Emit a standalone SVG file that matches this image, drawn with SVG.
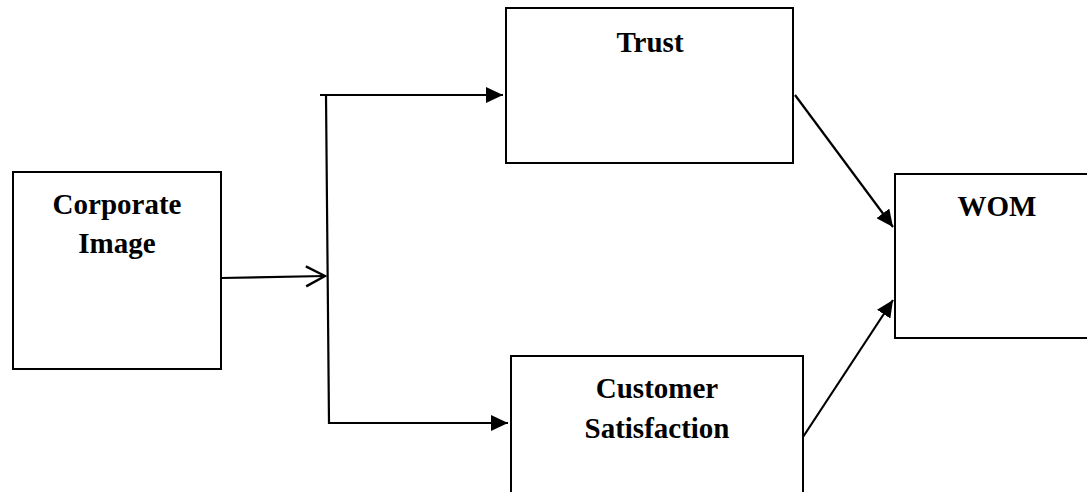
<svg xmlns="http://www.w3.org/2000/svg" width="1087" height="492" viewBox="0 0 1087 492">
<style>
.box{fill:#fff;stroke:#000;stroke-width:2}
.lbl{font-family:"Liberation Serif","Times New Roman",serif;font-weight:bold;font-size:29px;fill:#000;text-anchor:middle}
.con{fill:none;stroke:#000;stroke-width:2.2}
</style>
<defs>
<marker id="tri" markerUnits="userSpaceOnUse" markerWidth="18" markerHeight="16" refX="17" refY="8" orient="auto">
<path d="M0,0 L17,8 L0,16 Z" fill="#000"/>
</marker>
<marker id="open" markerUnits="userSpaceOnUse" markerWidth="22" markerHeight="24" refX="20" refY="12" orient="auto">
<path d="M1,2 L20,12 L1,22" fill="none" stroke="#000" stroke-width="2.4"/>
</marker>
</defs>
<rect x="0" y="0" width="1087" height="492" fill="#fff"/>
<g id="connectors">
<path class="con" d="M221,278 L325,276" marker-end="url(#open)"/>
<path class="con" d="M320,95 L326,95 L329,423 L508,423" marker-end="url(#tri)" stroke-linejoin="miter"/>
<path class="con" d="M326,95 L503,95" marker-end="url(#tri)"/>
<path class="con" d="M795,95 L893,227" marker-end="url(#tri)"/>
<path class="con" d="M803,437 L893,300" marker-end="url(#tri)"/>
</g>
<g id="corporate-image">
<rect class="box" x="13" y="172" width="208" height="197"/>
<text class="lbl" x="117" y="214">Corporate</text>
<text class="lbl" x="117" y="253">Image</text>
</g>
<g id="trust">
<rect class="box" x="506" y="8" width="287" height="155"/>
<text class="lbl" x="650" y="52">Trust</text>
</g>
<g id="customer-satisfaction">
<rect class="box" x="511" y="356" width="292" height="150"/>
<text class="lbl" x="657" y="398">Customer</text>
<text class="lbl" x="657" y="438">Satisfaction</text>
</g>
<g id="wom">
<rect class="box" x="895" y="174" width="205" height="164"/>
<text class="lbl" x="997" y="216">WOM</text>
</g>
</svg>
